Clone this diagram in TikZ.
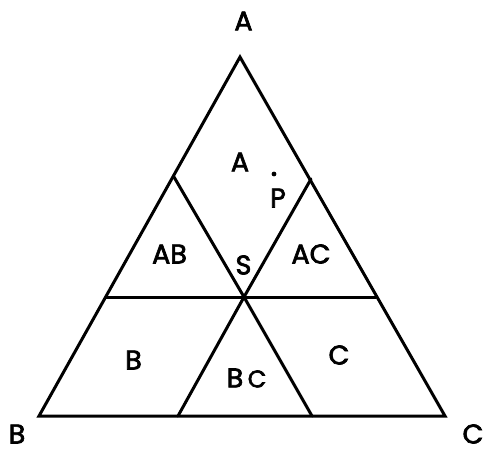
\documentclass[tikz,border=0pt]{standalone}
\usepackage{fontspec}
\setmainfont{Poppins}
\newfontfamily\lblfont[FakeBold=2.5]{Poppins}
\begin{document}
\begin{tikzpicture}[x=1pt,y=-1pt,
  edge/.style={line width=3pt,line join=miter,line cap=round},
  lbl/.style={font=\lblfont\fontsize{27}{27}\selectfont,inner sep=0pt,anchor=center}]
\useasboundingbox[fill=white] (0,0) rectangle (484,452);
% vertices and dividing points
\coordinate (A) at (240,57);
\coordinate (B) at (39,416);
\coordinate (C) at (445,416);
\coordinate (S) at (244,297);
\coordinate (ab1) at (174,177);
\coordinate (ab2) at (106,297);
\coordinate (ac1) at (311,179);
\coordinate (ac2) at (376,297);
\coordinate (bc1) at (178,416);
\coordinate (bc2) at (312,416);
% outer triangle
\draw[edge] (A) -- (B) -- (C) -- cycle;
% lines through S
\draw[edge] (ab2) -- (ac2);
\draw[edge] (ab1) -- (S) -- (bc2);
\draw[edge] (ac1) -- (S) -- (bc1);
% point P
\fill (274,174) circle (2.4pt);
% labels
\node[lbl] (lA) at (243.5,21) {A};
\node[lbl] (lB) at (17,434) {B};
\node[lbl] (lC) at (473,434) {C};
\node[lbl] (rA) at (240,162) {A};
\node[lbl] (rP) at (278,198) {P};
\node[lbl] (rAB) at (169.5,254) {AB};
\node[lbl] (rS) at (243.5,265) {S};
\node[lbl] (rAC) at (311,254) {AC};
\node[lbl] (rB) at (133.5,360) {B};
\node[lbl] (rBC) at (246.5,378) {B\,{\fontsize{24}{24}\selectfont C}};
\node[lbl] (rC) at (339,355) {C};
\end{tikzpicture}
\end{document}
